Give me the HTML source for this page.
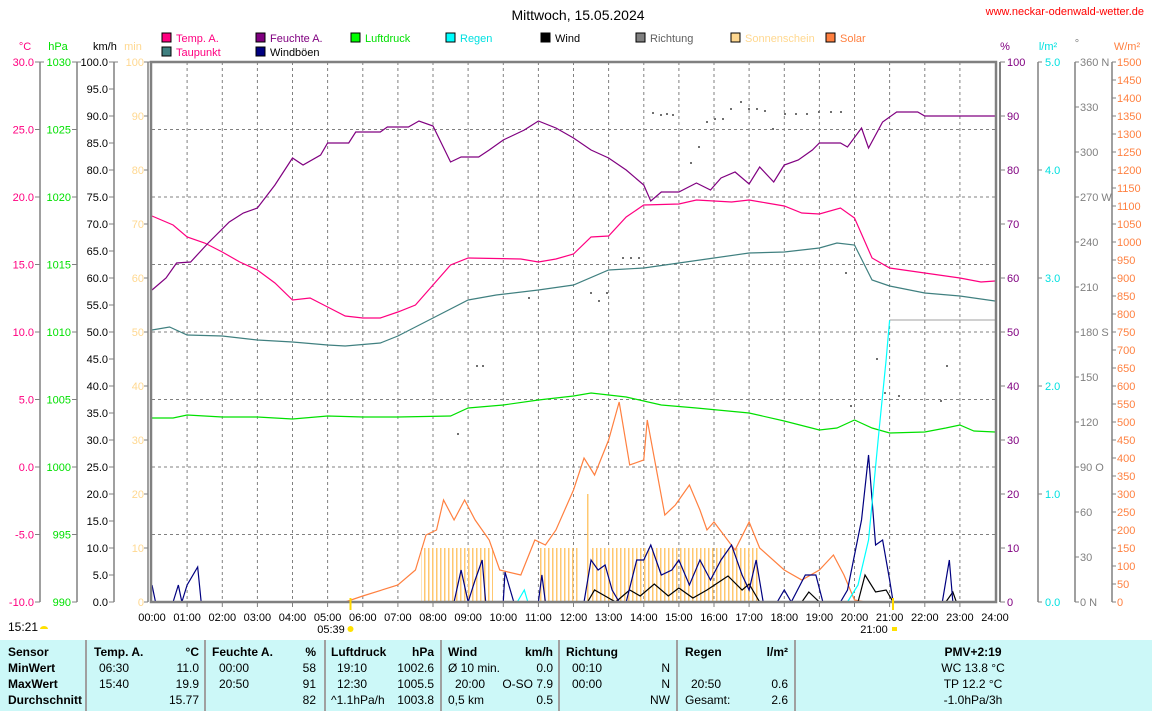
<!DOCTYPE html>
<html><head><meta charset="utf-8"><style>
body{margin:0;background:#fff;width:1152px;height:711px;overflow:hidden;position:relative;font-family:"Liberation Sans",sans-serif}
svg{position:absolute;left:0;top:0}
.t{position:absolute;font-size:12px;white-space:nowrap;line-height:14px}
.b{font-weight:bold}
.r{text-align:right}
</style></head><body>
<svg width="1152" height="711" font-family="Liberation Sans, sans-serif" font-size="11">
<defs>
<pattern id="sun" x="0" y="0" width="4" height="10" patternUnits="userSpaceOnUse"><rect x="0" y="0" width="1.5" height="10" fill="#ffc870"/></pattern>
</defs>
<text x="578" y="20" font-size="14" text-anchor="middle">Mittwoch, 15.05.2024</text>
<text x="1144" y="15" font-size="11" fill="#ff0000" text-anchor="end">www.neckar-odenwald-wetter.de</text>
<!-- legend -->
<g font-size="11">
<rect x="162" y="33" width="9" height="9" fill="#ff0080" stroke="#000"/><text x="176" y="42" fill="#ff0080">Temp. A.</text>
<rect x="162" y="47" width="9" height="9" fill="#408080" stroke="#000"/><text x="176" y="56" fill="#ff0080">Taupunkt</text>
<rect x="256" y="33" width="9" height="9" fill="#800080" stroke="#000"/><text x="270" y="42" fill="#800080">Feuchte A.</text>
<rect x="256" y="47" width="9" height="9" fill="#000080" stroke="#000"/><text x="270" y="56">Windböen</text>
<rect x="351" y="33" width="9" height="9" fill="#00ff00" stroke="#000"/><text x="365" y="42" fill="#00e000">Luftdruck</text>
<rect x="446" y="33" width="9" height="9" fill="#00ffff" stroke="#000"/><text x="460" y="42" fill="#00e0e0">Regen</text>
<rect x="541" y="33" width="9" height="9" fill="#000" stroke="#000"/><text x="555" y="42">Wind</text>
<rect x="636" y="33" width="9" height="9" fill="#808080" stroke="#000"/><text x="650" y="42" fill="#606060">Richtung</text>
<rect x="731" y="33" width="9" height="9" fill="#ffd890" stroke="#000"/><text x="745" y="42" fill="#ffd890">Sonnenschein</text>
<rect x="826" y="33" width="9" height="9" fill="#ff8040" stroke="#000"/><text x="840" y="42" fill="#ff8040">Solar</text>
</g>
<!-- axis headers -->
<text x="25" y="50" fill="#ff0080" text-anchor="middle">°C</text>
<text x="58" y="50" fill="#00e000" text-anchor="middle">hPa</text>
<text x="93" y="50">km/h</text>
<text x="133" y="50" fill="#ffd890" text-anchor="middle">min</text>
<text x="1005" y="50" fill="#800080" text-anchor="middle">%</text>
<text x="1048" y="50" fill="#00e0e0" text-anchor="middle">l/m²</text>
<text x="1077" y="47" fill="#808080" text-anchor="middle">°</text>
<text x="1127" y="50" fill="#ff8040" text-anchor="middle">W/m²</text>
<!-- axis lines -->
<g stroke="#808080" stroke-width="1.5">
<line x1="40" y1="62" x2="40" y2="602"/><line x1="77" y1="62" x2="77" y2="602"/>
<line x1="114" y1="62" x2="114" y2="602"/><line x1="148" y1="62" x2="148" y2="602"/>
<line x1="1038" y1="62" x2="1038" y2="602"/><line x1="1075" y1="62" x2="1075" y2="602"/>
<line x1="1112" y1="62" x2="1112" y2="602"/>
</g>
<!-- grid -->
<g stroke="#808080" stroke-dasharray="3,3" stroke-width="1">
<line x1="187.1" y1="62" x2="187.1" y2="602"/><line x1="222.3" y1="62" x2="222.3" y2="602"/><line x1="257.4" y1="62" x2="257.4" y2="602"/><line x1="292.5" y1="62" x2="292.5" y2="602"/><line x1="327.6" y1="62" x2="327.6" y2="602"/><line x1="362.8" y1="62" x2="362.8" y2="602"/><line x1="397.9" y1="62" x2="397.9" y2="602"/><line x1="433" y1="62" x2="433" y2="602"/><line x1="468.1" y1="62" x2="468.1" y2="602"/><line x1="503.3" y1="62" x2="503.3" y2="602"/><line x1="538.4" y1="62" x2="538.4" y2="602"/><line x1="573.5" y1="62" x2="573.5" y2="602"/><line x1="608.6" y1="62" x2="608.6" y2="602"/><line x1="643.8" y1="62" x2="643.8" y2="602"/><line x1="678.9" y1="62" x2="678.9" y2="602"/><line x1="714" y1="62" x2="714" y2="602"/><line x1="749.1" y1="62" x2="749.1" y2="602"/><line x1="784.3" y1="62" x2="784.3" y2="602"/><line x1="819.4" y1="62" x2="819.4" y2="602"/><line x1="854.5" y1="62" x2="854.5" y2="602"/><line x1="889.6" y1="62" x2="889.6" y2="602"/><line x1="924.8" y1="62" x2="924.8" y2="602"/><line x1="959.9" y1="62" x2="959.9" y2="602"/>
<line x1="152" y1="129.5" x2="995" y2="129.5"/><line x1="152" y1="197" x2="995" y2="197"/><line x1="152" y1="264.5" x2="995" y2="264.5"/><line x1="152" y1="332" x2="995" y2="332"/><line x1="152" y1="399.5" x2="995" y2="399.5"/><line x1="152" y1="467" x2="995" y2="467"/><line x1="152" y1="534.5" x2="995" y2="534.5"/>
</g>
<!-- left ticks/labels -->
<g stroke="#808080"><path d="M35 62h5M35 129.5h5M35 197h5M35 264.5h5M35 332h5M35 399.5h5M35 467h5M35 534.5h5M35 602h5
M72 62h5M72 129.5h5M72 197h5M72 264.5h5M72 332h5M72 399.5h5M72 467h5M72 534.5h5M72 602h5
M109 62h5M109 89h5M109 116h5M109 143h5M109 170h5M109 197h5M109 224h5M109 251h5M109 278h5M109 305h5M109 332h5M109 359h5M109 386h5M109 413h5M109 440h5M109 467h5M109 494h5M109 521h5M109 548h5M109 575h5M109 602h5
M144 62h7M144 116h4M144 170h4M144 224h4M144 278h4M144 332h4M144 386h4M144 440h4M144 494h4M144 548h4M144 602h4
M114 62h4M40 62h4M77 62h4
M1000 62h5M1000 116h5M1000 170h5M1000 224h5M1000 278h5M1000 332h5M1000 386h5M1000 440h5M1000 494h5M1000 548h5M1000 602h5
M1038 62h4M1038 170h4M1038 278h4M1038 386h4M1038 494h4M1038 602h4
M1075 62h4M1075 107h4M1075 152h4M1075 197h4M1075 242h4M1075 287h4M1075 332h4M1075 377h4M1075 422h4M1075 467h4M1075 512h4M1075 557h4M1075 602h4
M1112 62h4M1112 80h4M1112 98h4M1112 116h4M1112 134h4M1112 152h4M1112 170h4M1112 188h4M1112 206h4M1112 224h4M1112 242h4M1112 260h4M1112 278h4M1112 296h4M1112 314h4M1112 332h4M1112 350h4M1112 368h4M1112 386h4M1112 404h4M1112 422h4M1112 440h4M1112 458h4M1112 476h4M1112 494h4M1112 512h4M1112 530h4M1112 548h4M1112 566h4M1112 584h4M1112 602h4"/></g>
<g fill="#ff0080" text-anchor="end"><text x="34" y="66">30.0</text><text x="34" y="133.5">25.0</text><text x="34" y="201">20.0</text><text x="34" y="268.5">15.0</text><text x="34" y="336">10.0</text><text x="34" y="403.5">5.0</text><text x="34" y="471">0.0</text><text x="34" y="538.5">-5.0</text><text x="34" y="606">-10.0</text></g>
<g fill="#00e000" text-anchor="end"><text x="71" y="66">1030</text><text x="71" y="133.5">1025</text><text x="71" y="201">1020</text><text x="71" y="268.5">1015</text><text x="71" y="336">1010</text><text x="71" y="403.5">1005</text><text x="71" y="471">1000</text><text x="71" y="538.5">995</text><text x="71" y="606">990</text></g>
<g text-anchor="end"><text x="108" y="66">100.0</text><text x="108" y="93">95.0</text><text x="108" y="120">90.0</text><text x="108" y="147">85.0</text><text x="108" y="174">80.0</text><text x="108" y="201">75.0</text><text x="108" y="228">70.0</text><text x="108" y="255">65.0</text><text x="108" y="282">60.0</text><text x="108" y="309">55.0</text><text x="108" y="336">50.0</text><text x="108" y="363">45.0</text><text x="108" y="390">40.0</text><text x="108" y="417">35.0</text><text x="108" y="444">30.0</text><text x="108" y="471">25.0</text><text x="108" y="498">20.0</text><text x="108" y="525">15.0</text><text x="108" y="552">10.0</text><text x="108" y="579">5.0</text><text x="108" y="606">0.0</text></g>
<g fill="#ffd890" text-anchor="end"><text x="144" y="66">100</text><text x="144" y="120">90</text><text x="144" y="174">80</text><text x="144" y="228">70</text><text x="144" y="282">60</text><text x="144" y="336">50</text><text x="144" y="390">40</text><text x="144" y="444">30</text><text x="144" y="498">20</text><text x="144" y="552">10</text><text x="144" y="606">0</text></g>
<g fill="#800080"><text x="1007" y="66">100</text><text x="1007" y="120">90</text><text x="1007" y="174">80</text><text x="1007" y="228">70</text><text x="1007" y="282">60</text><text x="1007" y="336">50</text><text x="1007" y="390">40</text><text x="1007" y="444">30</text><text x="1007" y="498">20</text><text x="1007" y="552">10</text><text x="1007" y="606">0</text></g>
<g fill="#00e0e0"><text x="1045" y="66">5.0</text><text x="1045" y="174">4.0</text><text x="1045" y="282">3.0</text><text x="1045" y="390">2.0</text><text x="1045" y="498">1.0</text><text x="1045" y="606">0.0</text></g>
<g fill="#808080"><text x="1080" y="66">360 N</text><text x="1080" y="111">330</text><text x="1080" y="156">300</text><text x="1080" y="201">270 W</text><text x="1080" y="246">240</text><text x="1080" y="291">210</text><text x="1080" y="336">180 S</text><text x="1080" y="381">150</text><text x="1080" y="426">120</text><text x="1080" y="471">90  O</text><text x="1080" y="516">60</text><text x="1080" y="561">30</text><text x="1080" y="606">0    N</text></g>
<g fill="#ff8040"><text x="1117" y="66">1500</text><text x="1117" y="84">1450</text><text x="1117" y="102">1400</text><text x="1117" y="120">1350</text><text x="1117" y="138">1300</text><text x="1117" y="156">1250</text><text x="1117" y="174">1200</text><text x="1117" y="192">1150</text><text x="1117" y="210">1100</text><text x="1117" y="228">1050</text><text x="1117" y="246">1000</text><text x="1117" y="264">950</text><text x="1117" y="282">900</text><text x="1117" y="300">850</text><text x="1117" y="318">800</text><text x="1117" y="336">750</text><text x="1117" y="354">700</text><text x="1117" y="372">650</text><text x="1117" y="390">600</text><text x="1117" y="408">550</text><text x="1117" y="426">500</text><text x="1117" y="444">450</text><text x="1117" y="462">400</text><text x="1117" y="480">350</text><text x="1117" y="498">300</text><text x="1117" y="516">250</text><text x="1117" y="534">200</text><text x="1117" y="552">150</text><text x="1117" y="570">100</text><text x="1117" y="588">50</text><text x="1117" y="606">0</text></g>
<!-- sunshine -->
<rect x="421" y="548" width="72" height="54" fill="url(#sun)"/>
<rect x="540" y="548" width="38" height="54" fill="url(#sun)"/>
<rect x="592" y="548" width="168" height="54" fill="url(#sun)"/>
<rect x="587" y="494" width="1.5" height="108" fill="#ffc870"/>
<!-- data -->
<g transform="translate(152,0) scale(35.125,1)" fill="none" stroke-width="1.2">
<polyline vector-effect="non-scaling-stroke" stroke="#ff8040" points="0,602 5.5,602 6,596 7,585 7.5,570 7.8,535 8.1,530 8.3,500 8.6,520 8.9,500 9.2,520 9.6,540 9.9,570 10.5,575 10.9,540 11.2,545 11.5,530 12,490 12.3,458 12.6,475 13,440 13.3,402 13.6,465 14,460 14.1,420 14.6,515 14.9,505 15.3,485 15.6,510 15.8,530 16,522 16.6,550 17,522 17.3,548 18,570 18.5,580 19,570 19.4,555 19.7,575 20,600 20.3,602 24,602"/>
<polyline vector-effect="non-scaling-stroke" stroke="#00e000" points="0,418 0.6,418 1,415 2,417 3,417 4,419 5,416 6,417 7,417 8.5,416 9,408 10,405 11,400 12,396 12.5,393 13.5,397 14.5,405 15.5,408 17,413 18,421 19,430 19.5,428 20,420 20.5,428 21,433 22,432 22.6,428 23,425 23.4,431 24,432"/>
<polyline vector-effect="non-scaling-stroke" stroke="#408080" points="0,330 0.5,327 1,335 2,336 3,340 4,342 5,345 5.5,346 6.5,343 7,336 8,318 9,300 9.8,295 11,290 12,285 13,270 14,268 15,263 16,258 17,253 18,252 19,248 19.5,243 20,245 20.5,280 21,286 22,293 23,296 24,301"/>
<polyline vector-effect="non-scaling-stroke" stroke="#ff0080" points="0,216 0.6,225 1,237 1.5,243 2,252 2.5,262 3,270 3.5,283 4,300 4.5,298 5,307 5.5,316 6,318 6.5,318 7,312 7.5,305 8,285 8.5,265 9,258 10.5,259 11,262 11.5,259 12,254 12.5,237 13,236 13.5,217 14,205 15,204 15.5,200 16.5,202 17,200 17.5,203 18,206 18.5,213 19,214 19.6,208 20,218 20.5,258 21,268 22,273 23,278 23.6,282 24,281"/>
<polyline vector-effect="non-scaling-stroke" stroke="#800080" points="0,290 0.4,278 0.7,263 1.1,262 1.6,243 2.2,222 2.6,213 3,208 3.5,185 4,158 4.3,165 4.8,155 5,143 5.6,143 5.8,132 6.5,132 6.7,127 7.3,127 7.6,121 8,126 8.5,162 8.8,157 9.3,157 9.6,150 10,140 10.6,130 11,121 11.5,128 12,138 12.5,150 13,158 13.5,170 14,185 14.2,201 14.5,192 15,192 15.5,183 15.9,190 16.2,178 16.6,172 17,184 17.3,167 17.7,182 18,165 18.4,160 18.8,150 19,143 19.6,143 19.8,147 20.2,128 20.4,148 20.8,122 21.2,112 21.8,112 22,116 24,116"/>
<polyline vector-effect="non-scaling-stroke" stroke="#000" points="0,602 12.4,602 12.6,590 12.9,596 13.2,602 13.6,590 13.9,596 14.3,584 14.7,596 15,588 15.4,598 15.8,590 16.4,576 16.8,590 17,584 17.3,602 18.5,602 18.7,592 19,602 20.1,602 20.3,575 20.6,592 20.9,590 21.1,602 22.6,602 22.8,592 22.9,602 24,602"/>
<polyline vector-effect="non-scaling-stroke" stroke="#000080" points="0,585 0.1,602 0.6,602 0.75,585 0.85,602 1,585 1.3,567 1.4,602 8.6,602 8.8,570 9,602 9.2,580 9.4,560 9.5,602 10,602 10.05,572 10.3,602 11,602 11.1,575 11.2,602 12.3,602 12.5,560 12.7,570 12.9,565 13.1,590 13.3,602 13.5,602 13.8,560 14,560 14.2,545 14.5,575 14.8,570 15,560 15.3,585 15.6,560 15.9,580 16.2,560 16.5,545 16.8,575 17,590 17.2,560 17.4,602 17.8,602 18,590 18.2,602 18.6,575 18.9,575 19.1,602 19.6,602 19.8,590 20,555 20.2,520 20.4,455 20.5,500 20.6,545 20.8,540 21,580 21.1,602 22.5,602 22.7,560 22.8,602 24,602"/>
<polyline vector-effect="non-scaling-stroke" stroke="#00ffff" points="10.4,602 10.6,590 10.7,602"/>
<polyline vector-effect="non-scaling-stroke" stroke="#00ffff" points="19.8,602 20.1,585 20.4,540 20.7,430 20.9,360 21,320"/>
<polyline vector-effect="non-scaling-stroke" stroke="#a0a0a0" stroke-width="1" points="21,320 24,320"/>
</g>
<!-- direction dots -->
<g fill="#707070">
<rect x="652" y="112" width="2" height="2"/><rect x="660" y="114" width="2" height="2"/><rect x="666" y="113" width="2" height="2"/><rect x="672" y="114" width="2" height="2"/><rect x="690" y="162" width="2" height="2"/><rect x="698" y="146" width="2" height="2"/><rect x="706" y="121" width="2" height="2"/><rect x="714" y="118" width="2" height="2"/><rect x="722" y="118" width="2" height="2"/><rect x="730" y="108" width="2" height="2"/><rect x="740" y="101" width="2" height="2"/><rect x="748" y="108" width="2" height="2"/><rect x="756" y="108" width="2" height="2"/><rect x="764" y="110" width="2" height="2"/><rect x="772" y="128" width="2" height="2"/><rect x="784" y="113" width="2" height="2"/><rect x="795" y="113" width="2" height="2"/><rect x="806" y="113" width="2" height="2"/><rect x="818" y="111" width="2" height="2"/><rect x="830" y="111" width="2" height="2"/><rect x="840" y="111" width="2" height="2"/>
<rect x="622" y="257" width="2" height="2"/><rect x="630" y="257" width="2" height="2"/><rect x="638" y="257" width="2" height="2"/><rect x="590" y="292" width="2" height="2"/><rect x="598" y="300" width="2" height="2"/><rect x="606" y="292" width="2" height="2"/><rect x="528" y="297" width="2" height="2"/><rect x="476" y="365" width="2" height="2"/><rect x="482" y="365" width="2" height="2"/><rect x="457" y="433" width="2" height="2"/><rect x="876" y="358" width="2" height="2"/><rect x="884" y="392" width="2" height="2"/><rect x="898" y="395" width="2" height="2"/><rect x="946" y="365" width="2" height="2"/><rect x="940" y="400" width="2" height="2"/><rect x="850" y="405" width="2" height="2"/><rect x="845" y="272" width="2" height="2"/>
</g>
<!-- frame -->
<rect x="151" y="62" width="845" height="540" fill="none" stroke="#808080" stroke-width="2.5"/>
<line x1="1000" y1="62" x2="1000" y2="602" stroke="#808080" stroke-width="2"/>
<!-- x ticks -->
<g stroke="#808080"><path d="M187.1 602v5M222.3 602v5M257.4 602v5M292.5 602v5M327.6 602v5M362.8 602v5M397.9 602v5M433 602v5M468.1 602v5M503.3 602v5M538.4 602v5M573.5 602v5M608.6 602v5M643.8 602v5M678.9 602v5M714 602v5M749.1 602v5M784.3 602v5M819.4 602v5M854.5 602v5M889.6 602v5M924.8 602v5M959.9 602v5"/></g>
<line x1="350.5" y1="598" x2="350.5" y2="610" stroke="#ffd800" stroke-width="2"/>
<line x1="893" y1="598" x2="893" y2="610" stroke="#ffd800" stroke-width="2"/>
<g text-anchor="middle"><text x="152" y="621">00:00</text><text x="187.1" y="621">01:00</text><text x="222.3" y="621">02:00</text><text x="257.4" y="621">03:00</text><text x="292.5" y="621">04:00</text><text x="327.6" y="621">05:00</text><text x="362.8" y="621">06:00</text><text x="397.9" y="621">07:00</text><text x="433" y="621">08:00</text><text x="468.1" y="621">09:00</text><text x="503.3" y="621">10:00</text><text x="538.4" y="621">11:00</text><text x="573.5" y="621">12:00</text><text x="608.6" y="621">13:00</text><text x="643.8" y="621">14:00</text><text x="678.9" y="621">15:00</text><text x="714" y="621">16:00</text><text x="749.1" y="621">17:00</text><text x="784.3" y="621">18:00</text><text x="819.4" y="621">19:00</text><text x="854.5" y="621">20:00</text><text x="889.6" y="621">21:00</text><text x="924.8" y="621">22:00</text><text x="959.9" y="621">23:00</text><text x="995" y="621">24:00</text>
<text x="331" y="633">05:39</text><text x="874" y="633">21:00</text></g>
<circle cx="350.5" cy="629" r="3" fill="#ffe000"/>
<rect x="892" y="627" width="5" height="4" fill="#ffe000"/>
<text x="8" y="631" font-size="12">15:21</text>
<path d="M40 629a4 3 0 0 1 8 0z" fill="#ffe000"/>
<!-- table bg -->
<rect x="0" y="640" width="1152" height="71" fill="#ccf8f8"/>
<g stroke="#a0a0a0" stroke-width="2"><line x1="86" y1="640" x2="86" y2="711"/><line x1="205" y1="640" x2="205" y2="711"/><line x1="325" y1="640" x2="325" y2="711"/><line x1="441" y1="640" x2="441" y2="711"/><line x1="559" y1="640" x2="559" y2="711"/><line x1="677" y1="640" x2="677" y2="711"/><line x1="795" y1="640" x2="795" y2="711"/></g>
</svg>
<!-- table text -->
<div class="t b" style="left:8px;top:645px">Sensor</div>
<div class="t b" style="left:8px;top:661px">MinWert</div>
<div class="t b" style="left:8px;top:677px">MaxWert</div>
<div class="t b" style="left:8px;top:693px">Durchschnitt</div>

<div class="t b" style="left:94px;top:645px">Temp. A.</div><div class="t b r" style="right:953px;top:645px">°C</div>
<div class="t" style="left:99px;top:661px">06:30</div><div class="t r" style="right:953px;top:661px">11.0</div>
<div class="t" style="left:99px;top:677px">15:40</div><div class="t r" style="right:953px;top:677px">19.9</div>
<div class="t r" style="right:953px;top:693px">15.77</div>

<div class="t b" style="left:212px;top:645px">Feuchte A.</div><div class="t b r" style="right:836px;top:645px">%</div>
<div class="t" style="left:219px;top:661px">00:00</div><div class="t r" style="right:836px;top:661px">58</div>
<div class="t" style="left:219px;top:677px">20:50</div><div class="t r" style="right:836px;top:677px">91</div>
<div class="t r" style="right:836px;top:693px">82</div>

<div class="t b" style="left:331px;top:645px">Luftdruck</div><div class="t b r" style="right:718px;top:645px">hPa</div>
<div class="t" style="left:337px;top:661px">19:10</div><div class="t r" style="right:718px;top:661px">1002.6</div>
<div class="t" style="left:337px;top:677px">12:30</div><div class="t r" style="right:718px;top:677px">1005.5</div>
<div class="t" style="left:331px;top:693px">^1.1hPa/h</div><div class="t r" style="right:718px;top:693px">1003.8</div>

<div class="t b" style="left:448px;top:645px">Wind</div><div class="t b r" style="right:599px;top:645px">km/h</div>
<div class="t" style="left:448px;top:661px">Ø 10 min.</div><div class="t r" style="right:599px;top:661px">0.0</div>
<div class="t" style="left:455px;top:677px">20:00</div><div class="t r" style="right:599px;top:677px">O-SO 7.9</div>
<div class="t" style="left:448px;top:693px">0,5 km</div><div class="t r" style="right:599px;top:693px">0.5</div>

<div class="t b" style="left:566px;top:645px">Richtung</div>
<div class="t" style="left:572px;top:661px">00:10</div><div class="t r" style="right:482px;top:661px">N</div>
<div class="t" style="left:572px;top:677px">00:00</div><div class="t r" style="right:482px;top:677px">N</div>
<div class="t r" style="right:482px;top:693px">NW</div>

<div class="t b" style="left:685px;top:645px">Regen</div><div class="t b r" style="right:364px;top:645px">l/m²</div>
<div class="t" style="left:691px;top:677px">20:50</div><div class="t r" style="right:364px;top:677px">0.6</div>
<div class="t" style="left:685px;top:693px">Gesamt:</div><div class="t r" style="right:364px;top:693px">2.6</div>

<div class="t b" style="left:873px;width:200px;text-align:center;top:645px">PMV+2:19</div>
<div class="t" style="left:873px;width:200px;text-align:center;top:661px">WC 13.8 °C</div>
<div class="t" style="left:873px;width:200px;text-align:center;top:677px">TP 12.2 °C</div>
<div class="t" style="left:873px;width:200px;text-align:center;top:693px">-1.0hPa/3h</div>
</body></html>
